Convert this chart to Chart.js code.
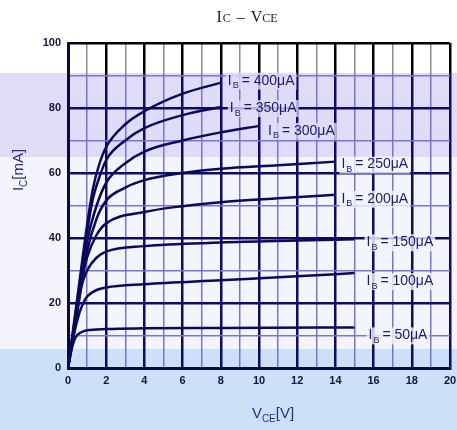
<!DOCTYPE html>
<html>
<head>
<meta charset="utf-8">
<script src="https://cdn.jsdelivr.net/npm/chart.js@4.4.1/dist/chart.umd.min.js"></script>
<style>
  html, body { margin: 0; padding: 0; background: #fff; }
  #wrap { width: 457px; height: 430px; }
</style>
</head>
<body>
<div id="wrap"><canvas id="icChart" width="457" height="430"></canvas></div>
<script>
// tick labels
const xTickLabels = [0, 2, 4, 6, 8, 10, 12, 14, 16, 18, 20]
const yTickLabels = [0, 20, 40, 60, 80, 100]

// base currents (uA)
const baseCurrents = [50, 100, 150, 200, 250, 300, 350, 400]

// collector curves: VCE [V] and IC [mA]
const vce50 = [0, 0.2, 0.4, 0.7, 1, 2, 4, 8, 15]
const ic50 = [0, 6, 9.5, 11, 11.6, 12, 12.2, 12.3, 12.5]

const vce100 = [0, 0.3, 0.6, 0.8, 1, 1.5, 2, 4, 8, 12, 15]
const ic100 = [0, 10, 17, 20, 22, 24, 24.8, 25.8, 27, 28.2, 29.2]

const vce150 = [0, 0.4, 0.7, 1, 1.5, 2, 4, 8, 12, 15]
const ic150 = [0, 14, 25, 30, 34, 35.8, 37.5, 38.6, 39.2, 39.6]

const vce200 = [0, 0.5, 0.8, 1, 1.5, 2, 4, 6, 8, 11, 14]
const ic200 = [0, 18, 29, 34, 41, 44.5, 48, 49.8, 51, 52.2, 53.3]

const vce250 = [0, 0.5, 1, 1.5, 2, 3, 4, 6, 8, 11, 14]
const ic250 = [0, 19, 36, 46, 51.5, 55.5, 57.8, 60, 61.3, 62.4, 63.5]

const vce300 = [0, 0.5, 1, 1.5, 2, 3, 4, 6, 8, 10]
const ic300 = [0, 20, 39, 50, 57, 63, 66.6, 70, 72.5, 74.5]

const vce350 = [0, 0.5, 1, 1.3, 1.6, 2, 3, 4, 6, 8]
const ic350 = [0, 21, 42, 52, 58, 64, 70, 73.8, 77.8, 80.3]

const vce400 = [0, 0.5, 1, 1.3, 1.6, 2, 3, 4, 6, 8]
const ic400 = [0, 22, 44, 55, 62, 68, 75, 79, 84.4, 87.8]

const curves = [
  [vce50, ic50], [vce100, ic100], [vce150, ic150], [vce200, ic200],
  [vce250, ic250], [vce300, ic300], [vce350, ic350], [vce400, ic400]
]

// label offsets from the end of each curve (px)
const labelOffsets = [[14, 8], [12, 8], [12, 3], [6, 4], [6, 3], [9, 5], [9, 1], [7, -2]]

const navy = '#0a0a5c'
const bandSplit = 73

// background bands: [top, bottom, colour]
const bands = [
  [0, 73, '#ffffff'],
  [73, 157, '#e0dcf8'],
  [157, 349, '#f4f4fc'],
  [349, 430, '#cce0f8']
]

function bandColor(y) {
  for (const b of bands) {
    if (y >= b[0] && y < b[1]) return b[2]
  }
  return '#ffffff'
}

const gradCache = {}
function gridGradient(chart, topCol, botCol) {
  const key = topCol + botCol
  if (!gradCache[key]) {
    const g = chart.ctx.createLinearGradient(0, 0, 0, chart.height)
    const s = bandSplit / chart.height
    g.addColorStop(0, topCol)
    g.addColorStop(s, topCol)
    g.addColorStop(s, botCol)
    g.addColorStop(1, botCol)
    gradCache[key] = g
  }
  return gradCache[key]
}

// draws text pieces one after another, returns width
function subText(ctx, x, y, parts) {
  let cx = x
  for (const p of parts) {
    ctx.font = p.font
    ctx.fillText(p.t, cx, y + (p.dy || 0))
    cx += ctx.measureText(p.t).width + (p.gap || 0)
  }
  return cx - x
}

function measureParts(ctx, parts) {
  let w = 0
  for (const p of parts) {
    ctx.font = p.font
    w += ctx.measureText(p.t).width + (p.gap || 0)
  }
  return w
}

const bandsPlugin = {
  id: 'bands',
  beforeDraw(chart) {
    const ctx = chart.ctx
    ctx.save()
    for (const b of bands) {
      ctx.fillStyle = b[2]
      ctx.fillRect(0, b[0], chart.width, b[1] - b[0])
    }
    ctx.restore()
  }
}

const labelFont = '14px "Liberation Sans", Arial, sans-serif'
const subFont = '9px "Liberation Sans", Arial, sans-serif'

const curveLabels = {
  id: 'curveLabels',
  afterDatasetsDraw(chart) {
    const ctx = chart.ctx
    ctx.save()
    ctx.textBaseline = 'middle'
    chart.data.datasets.forEach((ds, i) => {
      const pts = chart.getDatasetMeta(i).data
      const end = pts[pts.length - 1]
      const x = end.x + labelOffsets[i][0]
      const y = end.y + labelOffsets[i][1]
      const parts = [
        { t: 'I', font: labelFont, gap: 1 },
        { t: 'B', font: subFont, dy: 5, gap: 3 },
        { t: '= ' + baseCurrents[i] + '\u03bcA', font: labelFont }
      ]
      const w = measureParts(ctx, parts)
      ctx.globalAlpha = 0.8
      ctx.fillStyle = bandColor(y)
      ctx.fillRect(x - 2, y - 8, w + 4, 17)
      ctx.globalAlpha = 1
      ctx.fillStyle = '#1a1a6e'
      subText(ctx, x, y, parts)
    })
    ctx.restore()
  }
}

const titles = {
  id: 'titles',
  afterDraw(chart) {
    const ctx = chart.ctx
    const area = chart.chartArea
    ctx.save()
    ctx.textBaseline = 'alphabetic'

    // chart title
    const serif = '"Liberation Serif", "DejaVu Serif", serif'
    const tParts = [
      { t: 'I', font: '16px ' + serif, gap: 1 },
      { t: 'C', font: '12px ' + serif, gap: 6 },
      { t: '\u2013', font: '16px ' + serif, gap: 6 },
      { t: 'V', font: '16px ' + serif },
      { t: 'CE', font: '12px ' + serif }
    ]
    ctx.fillStyle = '#222222'
    const tw = measureParts(ctx, tParts)
    subText(ctx, 247 - tw / 2, 22, tParts)

    // x axis title
    const aFont = '15px "Liberation Sans", Arial, sans-serif'
    const aSub = '10px "Liberation Sans", Arial, sans-serif'
    ctx.fillStyle = '#2b2b8a'
    const xParts = [
      { t: 'V', font: aFont },
      { t: 'CE', font: aSub, dy: 4 },
      { t: '[V]', font: aFont }
    ]
    const xw = measureParts(ctx, xParts)
    subText(ctx, (area.left + area.right) / 2 + 14 - xw / 2, 418, xParts)

    // y axis title
    const yParts = [
      { t: 'I', font: aFont },
      { t: 'C', font: aSub, dy: 4 },
      { t: '[mA]', font: aFont }
    ]
    const yw = measureParts(ctx, yParts)
    ctx.translate(23, 170)
    ctx.rotate(-Math.PI / 2)
    subText(ctx, -yw / 2, 0, yParts)
    ctx.restore()
  }
}

const tickFont = { family: '"Liberation Sans", Arial, sans-serif', size: 11, weight: 'bold' }

const ctx = document.getElementById('icChart').getContext('2d')

const icChart = new Chart(ctx, {
  type: 'line',
  data: {
    datasets: curves.map((c, i) => ({
      label: 'IB = ' + baseCurrents[i] + 'uA',
      data: c[0].map((v, k) => ({ x: v, y: c[1][k] })),
      borderColor: navy,
      borderWidth: 2.5,
      pointRadius: 0,
      fill: false,
      cubicInterpolationMode: 'monotone'
    }))
  },
  options: {
    responsive: false,
    animation: false,
    devicePixelRatio: 1,
    layout: { padding: { top: 43, right: 7, left: 0, bottom: 0 } },
    plugins: {
      legend: { display: false },
      tooltip: { enabled: false },
      title: { display: false }
    },
    scales: {
      x: {
        type: 'linear',
        min: 0,
        max: 20,
        afterFit: (s) => { s.height = 62; s.paddingLeft = 0; s.paddingRight = 0 },
        ticks: {
          stepSize: 1,
          autoSkip: false,
          maxRotation: 0,
          padding: 6,
          color: '#141440',
          font: tickFont,
          callback: (v) => xTickLabels.includes(v) ? v : ''
        },
        grid: {
          drawTicks: false,
          color: (c) => (c.tick && c.tick.value % 2 === 0)
            ? gridGradient(c.chart, '#000000', '#0c0c66')
            : gridGradient(c.chart, '#8c8c8c', '#7676d2'),
          lineWidth: (c) => (c.tick && c.tick.value % 2 === 0) ? 2.5 : 1.5
        },
        border: { color: '#0a0a40', width: 3 }
      },
      y: {
        min: 0,
        max: 100,
        afterFit: (s) => { s.width = 68; s.paddingTop = 0; s.paddingBottom = 0 },
        ticks: {
          stepSize: 10,
          autoSkip: false,
          padding: 7,
          color: '#141440',
          font: tickFont,
          callback: (v) => yTickLabels.includes(v) ? v : ''
        },
        grid: {
          drawTicks: false,
          color: (c) => (c.tick && c.tick.value % 20 === 0)
            ? gridGradient(c.chart, '#000000', '#0c0c66')
            : gridGradient(c.chart, '#8c8c8c', '#7676d2'),
          lineWidth: (c) => (c.tick && c.tick.value % 20 === 0) ? 2.5 : 1.5
        },
        border: { color: '#0a0a40', width: 3 }
      }
    }
  },
  plugins: [bandsPlugin, curveLabels, titles]
})
</script>
</body>
</html>
